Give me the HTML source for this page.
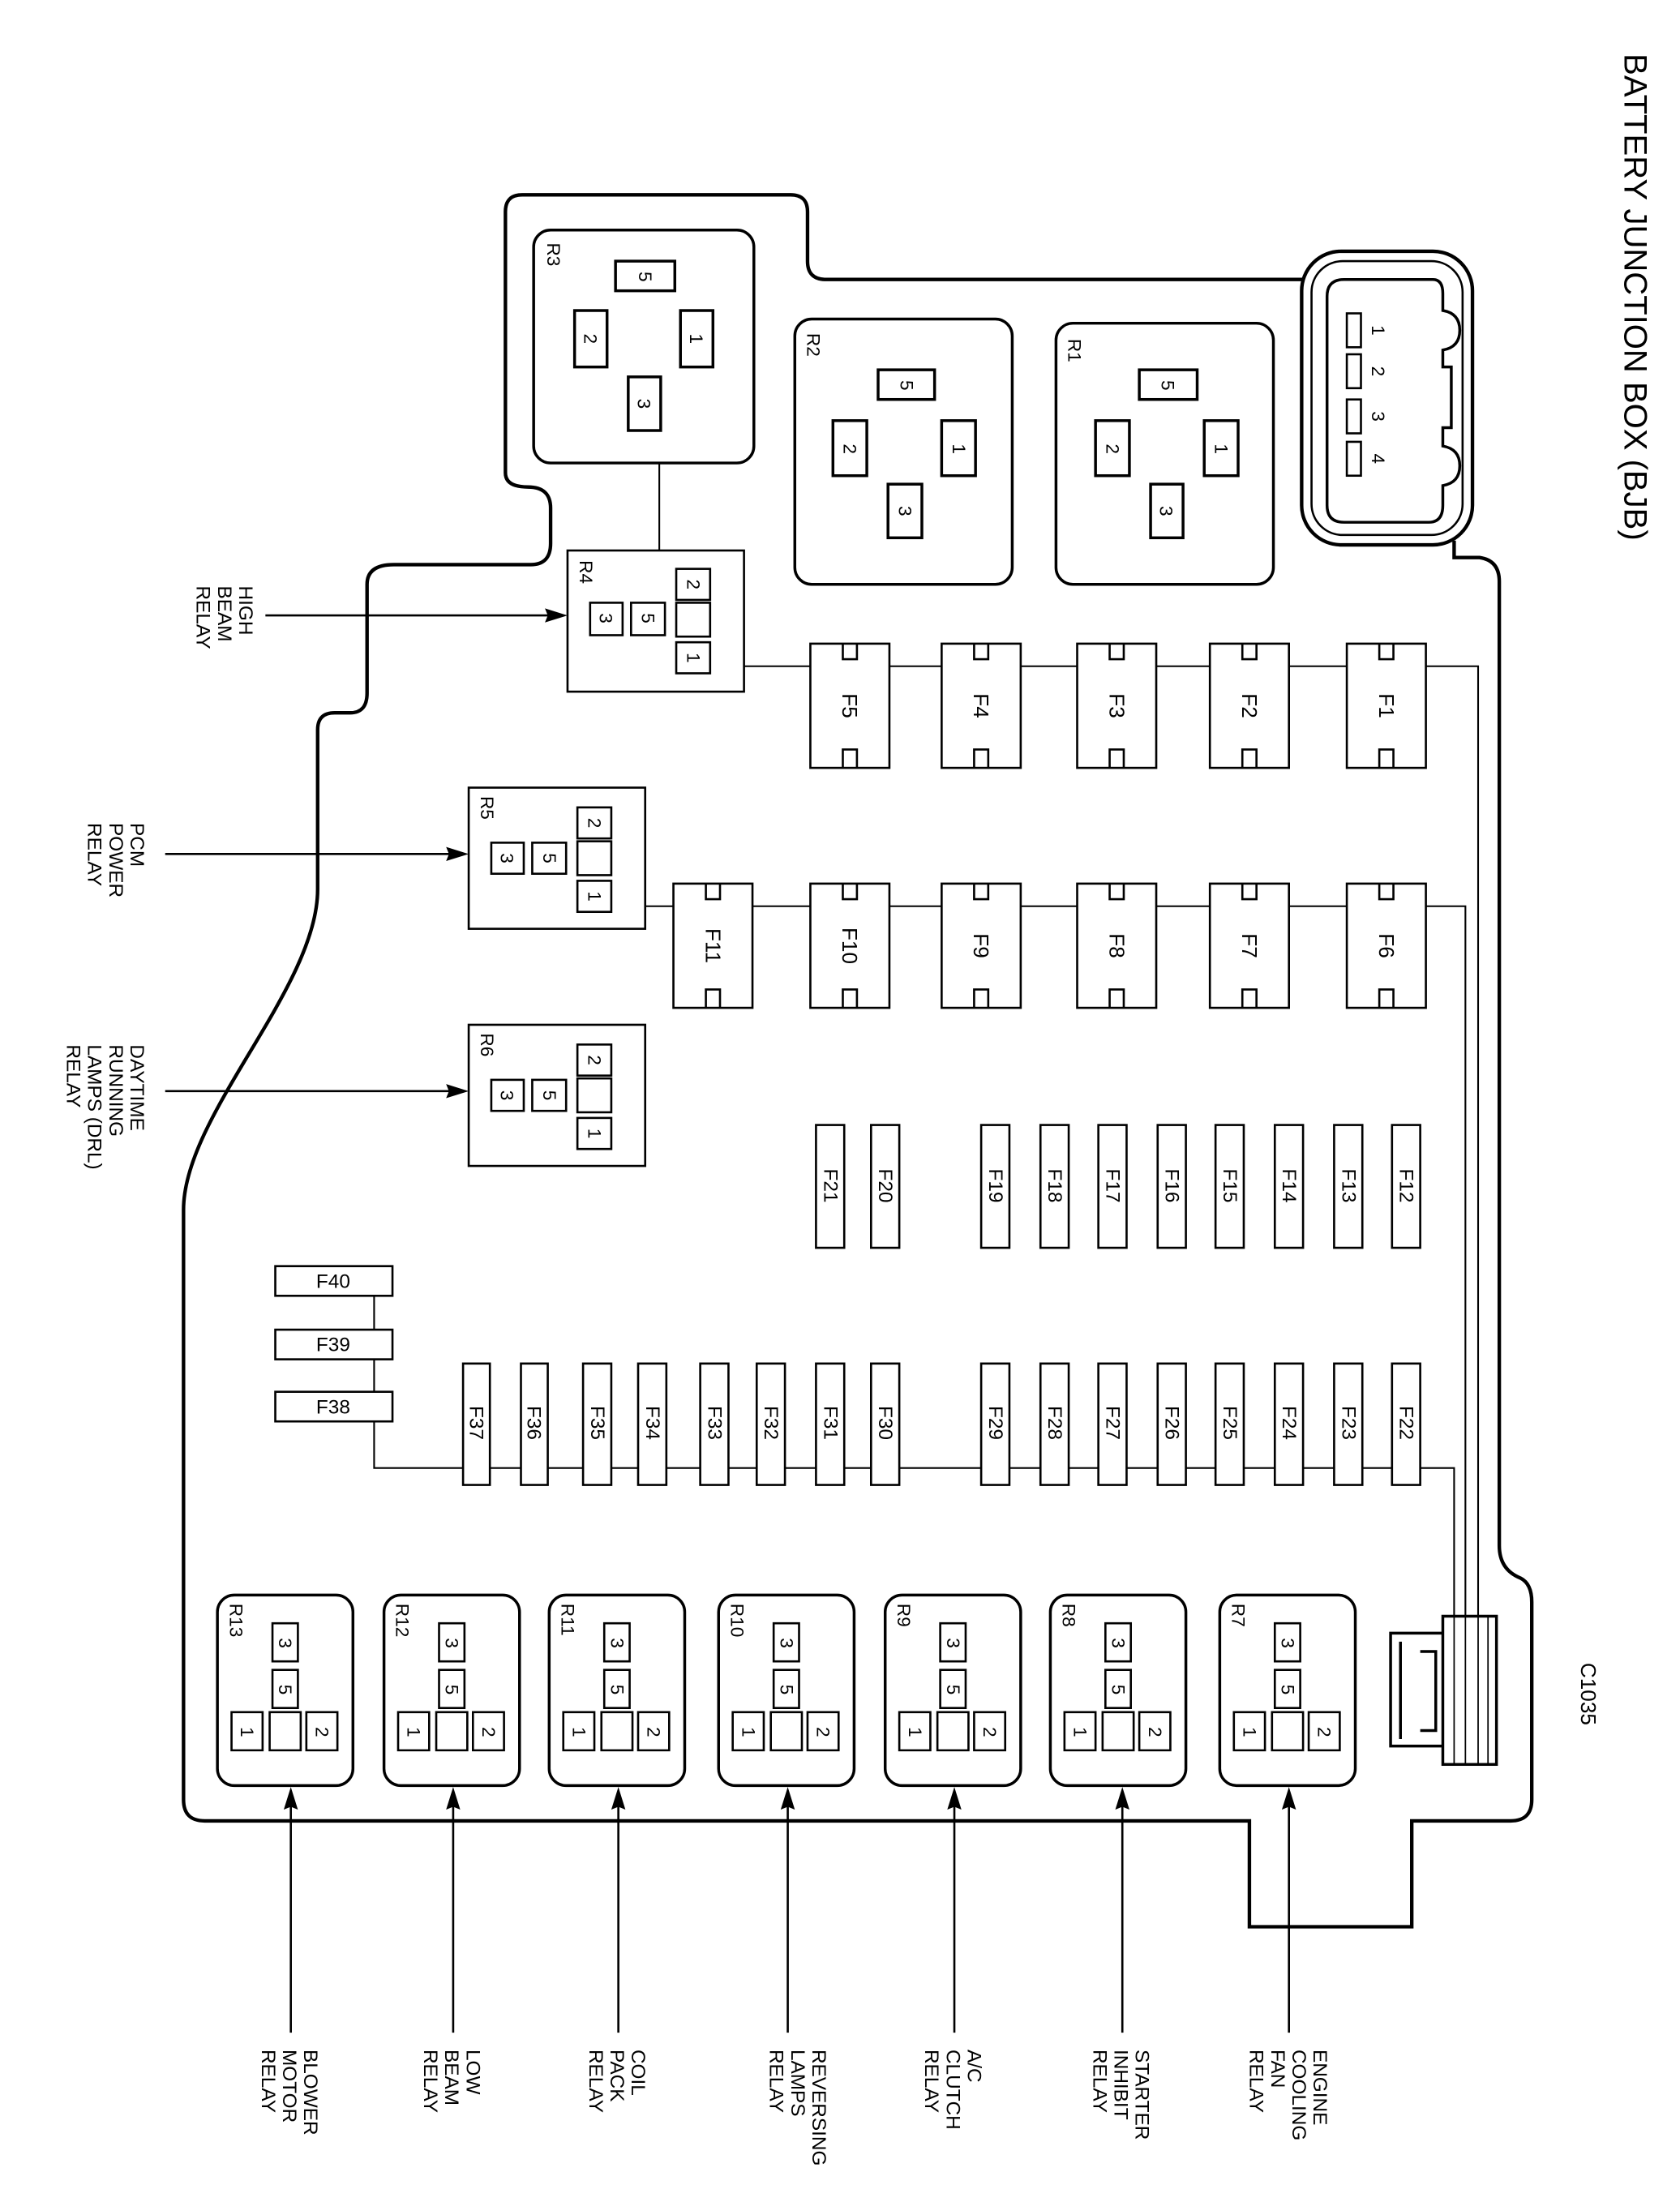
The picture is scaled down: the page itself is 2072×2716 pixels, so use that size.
<!DOCTYPE html>
<html><head><meta charset="utf-8"><style>
html,body{margin:0;padding:0;background:#fff}
svg{display:block}
text{font-family:"Liberation Sans",sans-serif;fill:#000}
</style></head><body>
<svg width="2072" height="2716" viewBox="0 0 1190 1560" preserveAspectRatio="none" xmlns="http://www.w3.org/2000/svg">
<g fill="none" stroke="#000">
<path stroke-width="2.5" d="M 358 335 V 150 Q 358 138 370 138 H 560 Q 572 138 572 150 V 185 Q 572 198 585 198 H 924 M 1030 383 V 395 H 1048 Q 1062 397 1062 412 V 1095 Q 1062 1112 1077 1118 Q 1085 1122 1085 1135 V 1275 Q 1085 1290 1070 1290 H 1000 V 1365 H 885 V 1290 H 145 Q 130 1290 130 1275 V 857 C 130 790 225 700 225 630 V 517 Q 225 505 237 505 H 248 Q 260 505 260 491 V 414 Q 260 400 279 400 H 376 Q 390 400 390 385 V 360 Q 390 345 374 345 Q 358 345 358 335"/>
<rect x="922" y="178" width="121" height="208" rx="28" stroke-width="2.5"/>
<rect x="929" y="185" width="107" height="194" rx="22" stroke-width="1.5"/>
<path stroke-width="2" d="M 952 198 H 1015 Q 1022 198 1022 208 V 220 Q 1034 222 1034 234 Q 1034 246 1022 248 V 260 H 1028 V 303 H 1022 V 316 Q 1034 318 1034 330 Q 1034 342 1022 344 V 358 Q 1022 370 1012 370 H 952 Q 940 370 940 358 V 210 Q 940 198 952 198 Z"/>
<rect x="954" y="222" width="10" height="24" stroke-width="1.5"/>
<rect x="954" y="251" width="10" height="24" stroke-width="1.5"/>
<rect x="954" y="283" width="10" height="24" stroke-width="1.5"/>
<rect x="954" y="313" width="10" height="24" stroke-width="1.5"/>

<path stroke-width="1.2" d="M 527 472 H 1047 V 1250 M 457 642 H 1038 V 1250 M 265 918 V 1040 H 1030 V 1250 M 1054 1145 V 1250 M 467 328 V 390"/>

<rect x="378" y="163" width="156" height="165" rx="12" stroke-width="2"/>
<rect x="436" y="185" width="42" height="21" stroke-width="2" fill="#fff"/>
<rect x="407" y="220" width="23" height="40" stroke-width="2"/>
<rect x="482" y="220" width="23" height="40" stroke-width="2"/>
<rect x="445" y="267" width="23" height="38" stroke-width="2"/>
<rect x="563" y="226" width="154" height="188" rx="12" stroke-width="2"/>
<rect x="622" y="262" width="40" height="21" stroke-width="2"/>
<rect x="590" y="298" width="24" height="39" stroke-width="2"/>
<rect x="667" y="298" width="24" height="39" stroke-width="2"/>
<rect x="629" y="343" width="24" height="38" stroke-width="2"/>
<rect x="748" y="229" width="154" height="185" rx="12" stroke-width="2"/>
<rect x="807" y="262" width="41" height="21" stroke-width="2"/>
<rect x="776" y="298" width="24" height="39" stroke-width="2"/>
<rect x="853" y="298" width="24" height="39" stroke-width="2"/>
<rect x="815" y="343" width="23" height="38" stroke-width="2"/>

<g stroke-width="1.5" fill="#fff">
<rect x="402" y="390" width="125" height="100"/>
<rect x="479" y="403" width="24" height="22"/><rect x="479" y="427" width="24" height="24"/><rect x="479" y="455" width="24" height="22"/>
<rect x="418" y="427" width="23" height="23"/><rect x="447" y="427" width="24" height="23"/>
<rect x="332" y="558" width="125" height="100"/>
<rect x="409" y="572" width="24" height="22"/><rect x="409" y="596" width="24" height="24"/><rect x="409" y="624" width="24" height="22"/>
<rect x="348" y="597" width="23" height="22"/><rect x="377" y="597" width="24" height="22"/>
<rect x="332" y="726" width="125" height="100"/>
<rect x="409" y="740" width="24" height="22"/><rect x="409" y="764" width="24" height="24"/><rect x="409" y="792" width="24" height="22"/>
<rect x="348" y="765" width="23" height="22"/><rect x="377" y="765" width="24" height="22"/>
</g>

<g stroke-width="1.5" fill="#fff">
<rect x="574" y="456" width="56" height="88"/><rect x="667" y="456" width="56" height="88"/><rect x="763" y="456" width="56" height="88"/><rect x="857" y="456" width="56" height="88"/><rect x="954" y="456" width="56" height="88"/>
<rect x="477" y="626" width="56" height="88"/><rect x="574" y="626" width="56" height="88"/><rect x="667" y="626" width="56" height="88"/><rect x="763" y="626" width="56" height="88"/><rect x="857" y="626" width="56" height="88"/><rect x="954" y="626" width="56" height="88"/>
</g>
<g stroke-width="1.5">
<path d="M597 456 V467 H607 V456 M690 456 V467 H700 V456 M786 456 V467 H796 V456 M880 456 V467 H890 V456 M977 456 V467 H987 V456"/>
<path d="M597 544 V531 H607 V544 M690 544 V531 H700 V544 M786 544 V531 H796 V544 M880 544 V531 H890 V544 M977 544 V531 H987 V544"/>
<path d="M500 626 V637 H510 V626 M597 626 V637 H607 V626 M690 626 V637 H700 V626 M786 626 V637 H796 V626 M880 626 V637 H890 V626 M977 626 V637 H987 V626"/>
<path d="M500 714 V701 H510 V714 M597 714 V701 H607 V714 M690 714 V701 H700 V714 M786 714 V701 H796 V714 M880 714 V701 H890 V714 M977 714 V701 H987 V714"/>
</g>

<g stroke-width="1.5" fill="#fff">
<rect x="578" y="797" width="20" height="87"/><rect x="617" y="797" width="20" height="87"/><rect x="695" y="797" width="20" height="87"/><rect x="737" y="797" width="20" height="87"/><rect x="778" y="797" width="20" height="87"/><rect x="820" y="797" width="20" height="87"/><rect x="861" y="797" width="20" height="87"/><rect x="903" y="797" width="20" height="87"/><rect x="945" y="797" width="20" height="87"/><rect x="986" y="797" width="20" height="87"/>
<rect x="328" y="966" width="19" height="86"/><rect x="369" y="966" width="19" height="86"/><rect x="413" y="966" width="20" height="86"/><rect x="452" y="966" width="20" height="86"/><rect x="496" y="966" width="20" height="86"/><rect x="536" y="966" width="20" height="86"/><rect x="578" y="966" width="20" height="86"/><rect x="617" y="966" width="20" height="86"/><rect x="695" y="966" width="20" height="86"/><rect x="737" y="966" width="20" height="86"/><rect x="778" y="966" width="20" height="86"/><rect x="820" y="966" width="20" height="86"/><rect x="861" y="966" width="20" height="86"/><rect x="903" y="966" width="20" height="86"/><rect x="945" y="966" width="20" height="86"/><rect x="986" y="966" width="20" height="86"/>
<rect x="195" y="897" width="83" height="21"/><rect x="195" y="942" width="83" height="21"/><rect x="195" y="986" width="83" height="21"/>
</g>

<rect x="1022" y="1145" width="38" height="105" stroke-width="2" fill="#fff"/>
<path stroke-width="1" d="M1030 1145 V1250 M1038 1145 V1250 M1047 1145 V1250 M1054 1145 V1250"/>
<path stroke-width="2" d="M1022 1157 H985 V1237 H1022 M992 1163 V1232 M1006 1170 H1017 V1226 H1006"/>

<g stroke-width="2">
<rect x="154" y="1130" width="96" height="135" rx="12"/>
<rect x="272" y="1130" width="96" height="135" rx="12"/>
<rect x="389" y="1130" width="96" height="135" rx="12"/>
<rect x="509" y="1130" width="96" height="135" rx="12"/>
<rect x="627" y="1130" width="96" height="135" rx="12"/>
<rect x="744" y="1130" width="96" height="135" rx="12"/>
<rect x="864" y="1130" width="96" height="135" rx="12"/>
</g>
<g stroke-width="1.5">
<path d="M193 1150 h18 v27 h-18 z M193 1183 h18 v27 h-18 z M164 1213 h22 v27 h-22 z M191 1213 h22 v27 h-22 z M217 1213 h22 v27 h-22 z"/>
<path transform="translate(118 0)" d="M193 1150 h18 v27 h-18 z M193 1183 h18 v27 h-18 z M164 1213 h22 v27 h-22 z M191 1213 h22 v27 h-22 z M217 1213 h22 v27 h-22 z"/>
<path transform="translate(235 0)" d="M193 1150 h18 v27 h-18 z M193 1183 h18 v27 h-18 z M164 1213 h22 v27 h-22 z M191 1213 h22 v27 h-22 z M217 1213 h22 v27 h-22 z"/>
<path transform="translate(355 0)" d="M193 1150 h18 v27 h-18 z M193 1183 h18 v27 h-18 z M164 1213 h22 v27 h-22 z M191 1213 h22 v27 h-22 z M217 1213 h22 v27 h-22 z"/>
<path transform="translate(473 0)" d="M193 1150 h18 v27 h-18 z M193 1183 h18 v27 h-18 z M164 1213 h22 v27 h-22 z M191 1213 h22 v27 h-22 z M217 1213 h22 v27 h-22 z"/>
<path transform="translate(590 0)" d="M193 1150 h18 v27 h-18 z M193 1183 h18 v27 h-18 z M164 1213 h22 v27 h-22 z M191 1213 h22 v27 h-22 z M217 1213 h22 v27 h-22 z"/>
<path transform="translate(710 0)" d="M193 1150 h18 v27 h-18 z M193 1183 h18 v27 h-18 z M164 1213 h22 v27 h-22 z M191 1213 h22 v27 h-22 z M217 1213 h22 v27 h-22 z"/>
</g>

<g stroke-width="1.5">
<path d="M188 436 H392 M117 605 H322 M117 773 H322"/>
<path d="M206 1440 V1276 M321 1440 V1276 M438 1440 V1276 M558 1440 V1276 M676 1440 V1276 M795 1440 V1276 M913 1440 V1276"/>
</g>
</g>
<g fill="#000">
<polygon points="402,436 386,431 388,436 386,441"/>
<polygon points="332,605 316,600 318,605 316,610"/>
<polygon points="332,773 316,768 318,773 316,778"/>
<polygon points="206,1266 201,1282 206,1280 211,1282"/>
<polygon points="321,1266 316,1282 321,1280 326,1282"/>
<polygon points="438,1266 433,1282 438,1280 443,1282"/>
<polygon points="558,1266 553,1282 558,1280 563,1282"/>
<polygon points="676,1266 671,1282 676,1280 681,1282"/>
<polygon points="795,1266 790,1282 795,1280 800,1282"/>
<polygon points="913,1266 908,1282 913,1280 918,1282"/>
</g>

<text transform="translate(1158 38) rotate(90)" font-size="23" dominant-baseline="central">BATTERY JUNCTION BOX (BJB)</text>
<text transform="translate(1125 1178) rotate(90)" font-size="15" dominant-baseline="central">C1035</text>

<g font-size="13" dominant-baseline="central">
<text transform="translate(392 172) rotate(90)">R3</text>
<text transform="translate(576 236) rotate(90)">R2</text>
<text transform="translate(761 240) rotate(90)">R1</text>
<text transform="translate(415 397) rotate(90)">R4</text>
<text transform="translate(345 564) rotate(90)">R5</text>
<text transform="translate(345 732) rotate(90)">R6</text>
<text transform="translate(167 1136) rotate(90)">R13</text>
<text transform="translate(285 1136) rotate(90)">R12</text>
<text transform="translate(402 1136) rotate(90)">R11</text>
<text transform="translate(522 1136) rotate(90)">R10</text>
<text transform="translate(640 1136) rotate(90)">R9</text>
<text transform="translate(757 1136) rotate(90)">R8</text>
<text transform="translate(877 1136) rotate(90)">R7</text>
</g>

<g font-size="13" text-anchor="middle" dominant-baseline="central">
<text transform="translate(457 196) rotate(90)">5</text>
<text transform="translate(418 240) rotate(90)">2</text>
<text transform="translate(493 240) rotate(90)">1</text>
<text transform="translate(456 286) rotate(90)">3</text>
<text transform="translate(642 273) rotate(90)">5</text>
<text transform="translate(602 318) rotate(90)">2</text>
<text transform="translate(679 318) rotate(90)">1</text>
<text transform="translate(641 362) rotate(90)">3</text>
<text transform="translate(827 273) rotate(90)">5</text>
<text transform="translate(788 318) rotate(90)">2</text>
<text transform="translate(865 318) rotate(90)">1</text>
<text transform="translate(826 362) rotate(90)">3</text>
<text transform="translate(976 234) rotate(90)">1</text>
<text transform="translate(976 263) rotate(90)">2</text>
<text transform="translate(976 295) rotate(90)">3</text>
<text transform="translate(976 325) rotate(90)">4</text>

<text transform="translate(491 414) rotate(90)">2</text>
<text transform="translate(491 466) rotate(90)">1</text>
<text transform="translate(429 438) rotate(90)">3</text>
<text transform="translate(459 438) rotate(90)">5</text>
<text transform="translate(421 583) rotate(90)">2</text>
<text transform="translate(421 635) rotate(90)">1</text>
<text transform="translate(359 608) rotate(90)">3</text>
<text transform="translate(389 608) rotate(90)">5</text>
<text transform="translate(421 751) rotate(90)">2</text>
<text transform="translate(421 803) rotate(90)">1</text>
<text transform="translate(359 776) rotate(90)">3</text>
<text transform="translate(389 776) rotate(90)">5</text>

<text transform="translate(202 1164) rotate(90)">3</text><text transform="translate(202 1197) rotate(90)">5</text><text transform="translate(175 1227) rotate(90)">1</text><text transform="translate(228 1227) rotate(90)">2</text>
<text transform="translate(320 1164) rotate(90)">3</text><text transform="translate(320 1197) rotate(90)">5</text><text transform="translate(293 1227) rotate(90)">1</text><text transform="translate(346 1227) rotate(90)">2</text>
<text transform="translate(437 1164) rotate(90)">3</text><text transform="translate(437 1197) rotate(90)">5</text><text transform="translate(410 1227) rotate(90)">1</text><text transform="translate(463 1227) rotate(90)">2</text>
<text transform="translate(557 1164) rotate(90)">3</text><text transform="translate(557 1197) rotate(90)">5</text><text transform="translate(530 1227) rotate(90)">1</text><text transform="translate(583 1227) rotate(90)">2</text>
<text transform="translate(675 1164) rotate(90)">3</text><text transform="translate(675 1197) rotate(90)">5</text><text transform="translate(648 1227) rotate(90)">1</text><text transform="translate(701 1227) rotate(90)">2</text>
<text transform="translate(792 1164) rotate(90)">3</text><text transform="translate(792 1197) rotate(90)">5</text><text transform="translate(765 1227) rotate(90)">1</text><text transform="translate(818 1227) rotate(90)">2</text>
<text transform="translate(912 1164) rotate(90)">3</text><text transform="translate(912 1197) rotate(90)">5</text><text transform="translate(885 1227) rotate(90)">1</text><text transform="translate(938 1227) rotate(90)">2</text>
</g>

<g font-size="15" text-anchor="middle" dominant-baseline="central">
<text transform="translate(602 500) rotate(90)">F5</text>
<text transform="translate(695 500) rotate(90)">F4</text>
<text transform="translate(791 500) rotate(90)">F3</text>
<text transform="translate(885 500) rotate(90)">F2</text>
<text transform="translate(982 500) rotate(90)">F1</text>
<text transform="translate(505 670) rotate(90)">F11</text>
<text transform="translate(602 670) rotate(90)">F10</text>
<text transform="translate(695 670) rotate(90)">F9</text>
<text transform="translate(791 670) rotate(90)">F8</text>
<text transform="translate(885 670) rotate(90)">F7</text>
<text transform="translate(982 670) rotate(90)">F6</text>
</g>
<g font-size="14" text-anchor="middle" dominant-baseline="central">
<text transform="translate(588 840) rotate(90)">F21</text>
<text transform="translate(627 840) rotate(90)">F20</text>
<text transform="translate(705 840) rotate(90)">F19</text>
<text transform="translate(747 840) rotate(90)">F18</text>
<text transform="translate(788 840) rotate(90)">F17</text>
<text transform="translate(830 840) rotate(90)">F16</text>
<text transform="translate(871 840) rotate(90)">F15</text>
<text transform="translate(913 840) rotate(90)">F14</text>
<text transform="translate(955 840) rotate(90)">F13</text>
<text transform="translate(996 840) rotate(90)">F12</text>
<text transform="translate(337 1008) rotate(90)">F37</text>
<text transform="translate(378 1008) rotate(90)">F36</text>
<text transform="translate(423 1008) rotate(90)">F35</text>
<text transform="translate(462 1008) rotate(90)">F34</text>
<text transform="translate(506 1008) rotate(90)">F33</text>
<text transform="translate(546 1008) rotate(90)">F32</text>
<text transform="translate(588 1008) rotate(90)">F31</text>
<text transform="translate(627 1008) rotate(90)">F30</text>
<text transform="translate(705 1008) rotate(90)">F29</text>
<text transform="translate(747 1008) rotate(90)">F28</text>
<text transform="translate(788 1008) rotate(90)">F27</text>
<text transform="translate(830 1008) rotate(90)">F26</text>
<text transform="translate(871 1008) rotate(90)">F25</text>
<text transform="translate(913 1008) rotate(90)">F24</text>
<text transform="translate(955 1008) rotate(90)">F23</text>
<text transform="translate(996 1008) rotate(90)">F22</text>
<text x="236" y="908">F40</text>
<text x="236" y="953">F39</text>
<text x="236" y="997">F38</text>
</g>

<g font-size="14" dominant-baseline="central">
<text transform="translate(174 415) rotate(90)"><tspan x="0" dy="0">HIGH</tspan><tspan x="0" dy="15">BEAM</tspan><tspan x="0" dy="15">RELAY</tspan></text>
<text transform="translate(97 583) rotate(90)"><tspan x="0" dy="0">PCM</tspan><tspan x="0" dy="15">POWER</tspan><tspan x="0" dy="15">RELAY</tspan></text>
<text transform="translate(97 740) rotate(90)"><tspan x="0" dy="0">DAYTIME</tspan><tspan x="0" dy="15">RUNNING</tspan><tspan x="0" dy="15">LAMPS (DRL)</tspan><tspan x="0" dy="15">RELAY</tspan></text>
<text transform="translate(220 1452) rotate(90)"><tspan x="0" dy="0">BLOWER</tspan><tspan x="0" dy="15">MOTOR</tspan><tspan x="0" dy="15">RELAY</tspan></text>
<text transform="translate(335 1452) rotate(90)"><tspan x="0" dy="0">LOW</tspan><tspan x="0" dy="15">BEAM</tspan><tspan x="0" dy="15">RELAY</tspan></text>
<text transform="translate(452 1452) rotate(90)"><tspan x="0" dy="0">COIL</tspan><tspan x="0" dy="15">PACK</tspan><tspan x="0" dy="15">RELAY</tspan></text>
<text transform="translate(580 1452) rotate(90)"><tspan x="0" dy="0">REVERSING</tspan><tspan x="0" dy="15">LAMPS</tspan><tspan x="0" dy="15">RELAY</tspan></text>
<text transform="translate(690 1452) rotate(90)"><tspan x="0" dy="0">A/C</tspan><tspan x="0" dy="15">CLUTCH</tspan><tspan x="0" dy="15">RELAY</tspan></text>
<text transform="translate(809 1452) rotate(90)"><tspan x="0" dy="0">STARTER</tspan><tspan x="0" dy="15">INHIBIT</tspan><tspan x="0" dy="15">RELAY</tspan></text>
<text transform="translate(935 1452) rotate(90)"><tspan x="0" dy="0">ENGINE</tspan><tspan x="0" dy="15">COOLING</tspan><tspan x="0" dy="15">FAN</tspan><tspan x="0" dy="15">RELAY</tspan></text>
</g>
</svg>
</body></html>
